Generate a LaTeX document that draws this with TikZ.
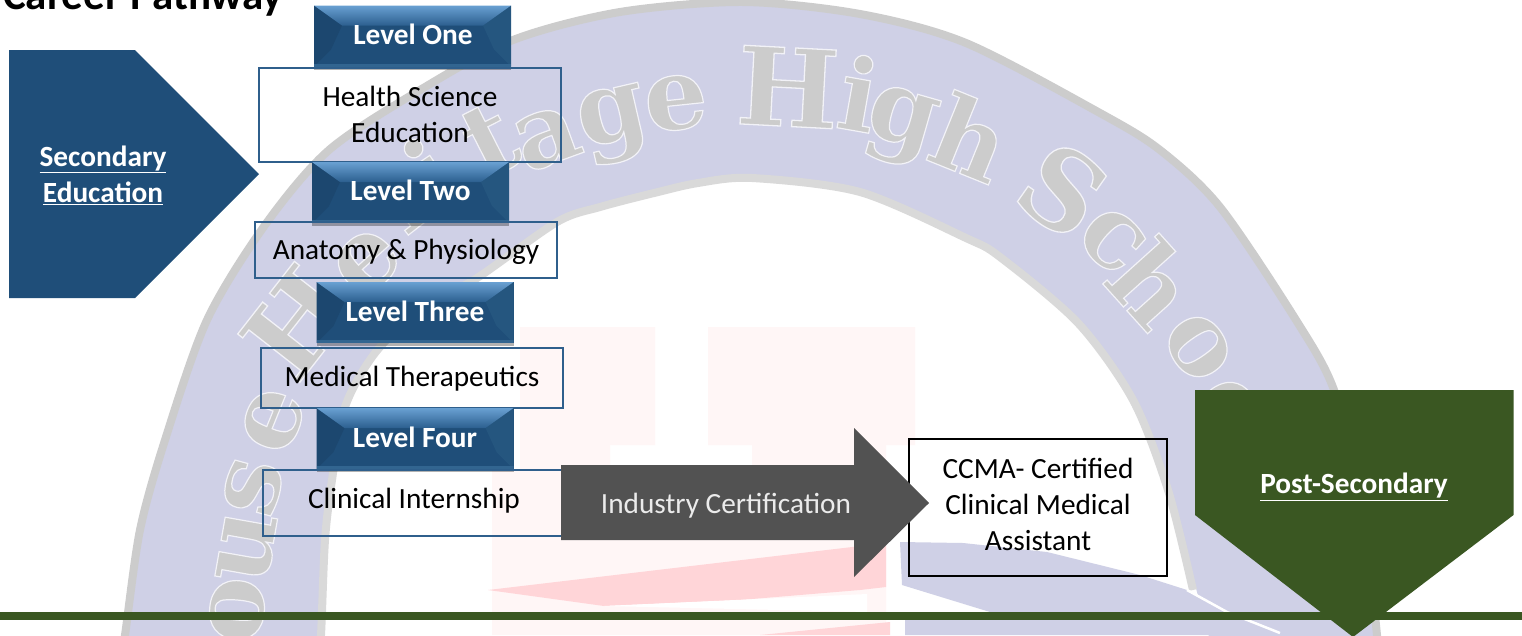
\documentclass[tikz,border=0pt]{standalone}
\usepackage{fontspec}
\setmainfont{Carlito}
\newfontfamily\wmfont[FakeBold=1.2]{DejaVu Serif Bold}
\usetikzlibrary{shadows}
\definecolor{navy}{HTML}{1F4E79}
\definecolor{navydark}{HTML}{1C476F}
\definecolor{navyside}{HTML}{25567F}
\definecolor{bevelhi}{HTML}{69A0D2}
\definecolor{bevello}{HTML}{2C5F8F}
\definecolor{edgeblue}{HTML}{2F5F8C}
\definecolor{forest}{HTML}{3A5722}
\definecolor{slate}{HTML}{525252}
\definecolor{lav}{HTML}{CFD0E6}
\definecolor{wmgray}{HTML}{CCCCCC}
\definecolor{wmgrayb}{HTML}{D9D9D9}
\definecolor{pinka}{HTML}{FFF6F6}
\definecolor{pinkb}{HTML}{FFD5D8}
\tikzset{
  bodytext/.style={font=\fontsize{29.3}{36}\selectfont,text=black,align=center,inner sep=0pt},
  whitebold/.style={font=\fontsize{29.3}{36}\selectfont\bfseries,text=white,align=center,inner sep=0pt},
  lightlabel/.style={font=\fontsize{29.3}{36}\selectfont,text=white!92!black,align=center,inner sep=0pt},
  itembox/.style={draw=edgeblue,line width=1.3pt,inner sep=0pt},
  certbox/.style={draw=black,line width=1.3pt,inner sep=0pt},
  levelbox/.style={fill=navy,inner sep=0pt,minimum width=197pt,minimum height=61pt,
    drop shadow={shadow xshift=0pt,shadow yshift=-3pt,opacity=.3,fill=black},
    path picture={
      \coordinate (tl) at (path picture bounding box.north west);
      \coordinate (tr) at (path picture bounding box.north east);
      \coordinate (bl) at (path picture bounding box.south west);
      \coordinate (br) at (path picture bounding box.south east);
      \fill[navydark] (tl) -- ([xshift=28pt,yshift=-20pt]tl) -- ([xshift=17pt,yshift=17pt]bl) -- (bl) -- cycle;
      \fill[navyside] (tr) -- ([xshift=-28pt,yshift=-20pt]tr) -- ([xshift=-17pt,yshift=17pt]br) -- (br) -- cycle;
      \shade[top color=bevelhi,bottom color=bevello] (tl) -- (tr) -- ([xshift=-28pt,yshift=-20pt]tr) -- ([xshift=28pt,yshift=-20pt]tl) -- cycle;
      \fill[navyside!80!bevelhi] ([yshift=3pt]bl) -- ([yshift=3pt]br) -- (br) -- (bl) -- cycle;
    }},
  wmark/.style={font=\wmfont\fontsize{100}{100}\selectfont,text=wmgray,inner sep=0pt},
  wmcap/.style={font=\wmfont\fontsize{108}{108}\selectfont,text=wmgray,inner sep=0pt},
}
\newcommand{\haloed}[1]{\special{pdf:code 0.95 0.95 0.97 RG}#1}
\newcommand{\wmletter}[6][wmark]{%
  \node[#1,rotate=#5] (w#2) at (#3,#4) {\haloed{#6}};
}
\begin{document}
\begin{tikzpicture}[x=1pt,y=-1pt]
\useasboundingbox (0,0) rectangle (1522,635);
\clip (0,0) rectangle (1522,635);
\fill[white] (0,0) rectangle (1522,635);

% flag watermark
\fill[pinka] (520,327) -- (655,327) -- (655,445) -- (610,445) -- (610,520) -- (752,520) -- (752,445) -- (708,445) -- (708,327) -- (915,327) -- (915,445) -- (886,445) -- (886,635) -- (492,635) -- (492,470) -- (520,470) -- cycle;
\fill[pinkb] (488,590) -- (886,543) -- (886,587) -- (860,590) -- (740,600) -- (604,606) -- cycle;
\fill[white] (604,606) -- (867,594) -- (867,612) -- cycle;
\fill[pinkb] (890,622) -- (890,635) -- (760,635) -- cycle;

% ring watermark
\fill[lav] plot[smooth] coordinates {(120,660) (125,635) (140,530) (165,440) (207,320) (265,225) (329,150) (420,90) (513,40) (620,12) (743,2) (860,14) (966,43) (1100,113) (1160,150) (1220,207) (1296,320) (1334,390) (1362,500) (1377,635) (1380,660)}
  -- plot[smooth] coordinates {(1215,660) (1197,592) (1168,490) (1133,400) (1078,323) (1000,257) (966,238) (860,192) (752,178) (698,183) (654,193) (600,207) (557,222) (477,278) (420,310) (375,353) (345,407) (332,480) (325,540) (321,635) (318,660)} -- cycle;
% shield watermark
\fill[lav] (900,542) -- (963,543) -- (1047,552) -- (1140,575) -- (1187,590) -- (1227,612) -- (1260,635) -- (905,635) -- (905,619) -- (990,612) -- (902,585) -- cycle;
\draw[wmgray,line width=8pt] plot[smooth] coordinates {(120,660) (125,635) (140,530) (165,440) (207,320) (265,225) (329,150) (420,90) (513,40) (620,12) (743,2) (860,14) (966,43) (1100,113) (1160,150) (1220,207) (1296,320) (1334,390) (1362,500) (1377,635) (1380,660)};
\draw[wmgrayb,line width=8pt] plot[smooth] coordinates {(1193,590) (1168,490) (1133,400) (1078,323) (1000,257) (966,238) (860,192) (752,178) (698,183) (654,193) (600,207) (557,222) (477,278) (420,310) (375,353) (345,407) (332,480) (325,540) (321,635) (318,660)};
\draw[white,line width=2.5pt] (1187,590) -- (1227,612) -- (1280,633);

% watermark lettering
\wmletter{a}{237}{610}{85}{o}
\wmletter{b}{247}{547}{80}{u}
\wmletter{c}{253}{487}{75}{s}
\wmletter{d}{273}{420}{68}{e}
\wmletter[wmcap]{e}{297}{322}{52}{H}
\wmletter{f}{367}{262}{42}{e}
\wmletter{g}{410}{200}{38}{r}
\wmletter{h}{430}{172}{34}{i}
\wmletter{i}{490}{140}{27}{t}
\wmletter{j}{547}{138}{20}{a}
\wmletter{k}{614}{125}{13}{g}
\wmletter{l}{676}{103}{6}{e}
\wmletter[wmcap]{m}{788}{87}{-3}{H}
\wmletter{n}{859}{93}{-10}{i}
\wmletter{o}{900}{127}{-16}{g}
\wmletter{p}{971}{137}{-22}{h}
\wmletter[wmcap]{q}{1063}{190}{-35}{S}
\wmletter{r}{1112}{240}{-42}{c}
\wmletter{s}{1153}{283}{-48}{h}
\wmletter{t}{1198}{347}{-55}{o}
\wmletter{u}{1230}{412}{-62}{o}

% title
\node[anchor=base west,font=\fontsize{43}{46}\selectfont\bfseries,text=black,inner sep=0pt] (title) at (3,9) {Career Pathway};

% footer bar
\fill[forest] (0,612) rectangle (1522,619.5);

% left banner
\fill[navy] (9,50) -- (135,50) -- (259,174) -- (135,298) -- (9,298) -- cycle;
\node[whitebold] (secondary) at (103,175.5) {\underline{Secondary}\\\underline{Education}};

% level boxes and items
\node[levelbox] (lone) at (412.5,36) {};
\node[whitebold] (lonetext) at (413,34.5) {Level One};
\node[itembox,minimum width=302pt,minimum height=94pt] (hse) at (410,115) {};
\node[bodytext] (hsetext) at (410,114.5) {Health Science\\Education};
\node[levelbox] (ltwo) at (410.5,192.5) {};
\node[whitebold] (ltwotext) at (410.5,190.5) {Level Two};
\node[itembox,minimum width=302pt,minimum height=56pt] (ap) at (406,250) {};
\node[bodytext] (aptext) at (406,252) {Anatomy \& Physiology};
\node[levelbox] (lthree) at (415,312.5) {};
\node[whitebold] (lthreetext) at (415,311) {Level Three};
\node[itembox,minimum width=302pt,minimum height=60pt] (mt) at (412,378) {};
\node[bodytext] (mttext) at (412,378.5) {Medical Therapeutics};
\node[levelbox] (lfour) at (415,438.5) {};
\node[whitebold] (lfourtext) at (415,437) {Level Four};
\node[itembox,minimum width=300pt,minimum height=66pt] (ci) at (413,503) {};
\node[bodytext] (citext) at (414,501) {Clinical Internship};

% certificate box
\node[certbox,minimum width=258pt,minimum height=137pt] (ccma) at (1038,507.5) {};
\node[bodytext] (ccmatext) at (1038,504.5) {CCMA- Certified\\Clinical Medical\\Assistant};

% industry arrow
\fill[slate] (561,465) -- (854,465) -- (854,428) -- (929,503) -- (854,577) -- (854,540) -- (561,540) -- cycle;
\node[lightlabel] (industry) at (726,506) {Industry Certification};

% post-secondary banner
\fill[forest] (1195,390) -- (1513.5,390) -- (1513.5,515) -- (1353,637) -- (1195,515) -- cycle;
\node[whitebold] (post) at (1354,487) {\underline{Post-Secondary}};
\end{tikzpicture}
\end{document}
